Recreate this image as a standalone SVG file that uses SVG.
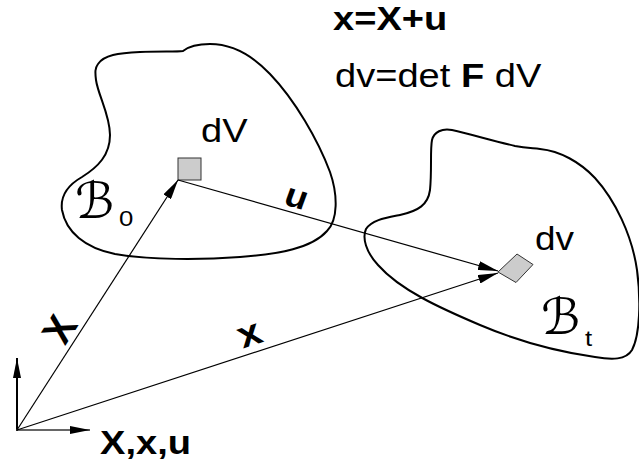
<svg xmlns="http://www.w3.org/2000/svg" width="639" height="466" viewBox="0 0 639 466">
<defs>
<style>
.body{fill:none;stroke:#000;stroke-width:2}
.vec{fill:none;stroke:#000;stroke-width:1.2}
.t{font-family:"Liberation Sans",Arial,sans-serif;fill:#000}
.b{font-weight:bold}
.scr{font-family:"DejaVu Serif","DejaVu Sans",serif;fill:#000}
.elem{fill:#ccc;stroke:#333;stroke-width:1}
</style>
<marker id="ah" viewBox="0 0 20 9" refX="20" refY="4.5" markerWidth="20" markerHeight="9" markerUnits="userSpaceOnUse" orient="auto">
<path d="M0,0 L20,4.5 L0,9 Z" fill="#000"/>
</marker>
<marker id="axh" viewBox="0 0 20 8" refX="20" refY="4" markerWidth="20" markerHeight="8" markerUnits="userSpaceOnUse" orient="auto">
<path d="M0,0 L20,4 L0,8 Z" fill="#000"/>
</marker>
</defs>
<rect width="639" height="466" fill="#fff"/>
<g id="body-B0">
<path class="body" d="M 98,64 C 104,55 118,53 140,52 C 160,51 176,52 183,51 C 188,47 197,44 210,44 C 232,44 252,55 270,74 C 295,100 318,140 330,172 C 338,195 338,220 327,231 C 312,248 280,254 240,257 C 200,260 150,260 115,254 C 85,248 66,232 62,210 C 60,195 68,185 82,177 C 98,167 110,155 110,135 C 110,115 98,95 96,80 C 95,72 95,68 98,64 Z"/>
<text class="scr" transform="translate(75,218)" font-size="50">ℬ</text>
<text class="t" transform="translate(119,226) scale(1.12,1)" font-size="23">0</text>
</g>
<g id="body-Bt">
<path class="body" d="M 432,140 C 434,132 442,128 452,130 C 470,134 490,140 515,146 C 525,148 530,148 540,149 C 560,151 580,162 595,178 C 615,200 632,235 637,270 C 641,300 640,335 632,350 C 626,360 612,360 595,357 C 560,352 520,342 480,325 C 440,308 400,290 378,265 C 366,252 362,238 366,229 C 372,220 385,218 400,215 C 418,211 428,205 430,190 C 432,170 430,150 432,140 Z"/>
<text class="scr" transform="translate(541,334)" font-size="50">ℬ</text>
<text class="t" transform="translate(585,346) scale(1.12,1)" font-size="23">t</text>
</g>
<g id="element-dV">
<rect class="elem" x="178" y="158" width="23" height="22"/>
<text class="t" transform="translate(201,142) scale(1.12,1)" font-size="34">dV</text>
</g>
<g id="element-dv">
<polygon class="elem" points="498,272 517,254 533,264.5 516,282.5"/>
<text class="t" transform="translate(535,250) scale(1.12,1)" font-size="33">dv</text>
</g>
<g id="axes">
<line x1="17" y1="431" x2="17" y2="358" stroke="#000" stroke-width="2" marker-end="url(#axh)"/>
<line x1="16" y1="430" x2="90" y2="430" stroke="#333" stroke-width="1.5" marker-end="url(#axh)"/>
<text class="t b" transform="translate(100,454) scale(1.12,1)" font-size="34">X,x,u</text>
</g>
<g id="connectors">
<line class="vec" x1="17" y1="430" x2="178" y2="180" marker-end="url(#ah)"/>
<line class="vec" x1="178" y1="180" x2="498" y2="271" marker-end="url(#ah)"/>
<line class="vec" x1="17" y1="430" x2="498" y2="273" marker-end="url(#ah)"/>
</g>
<g id="labels">
<text class="t b" transform="translate(59,329) scale(1.12,1) rotate(-60.2)" font-size="37" text-anchor="middle" dy="0.36em">X</text>
<text class="t b" transform="translate(250,336) scale(1.12,1) rotate(-20.2)" font-size="37" text-anchor="middle" dy="0.26em">x</text>
<text class="t b" transform="translate(296,199) scale(1.12,1) rotate(18)" font-size="33" text-anchor="middle" dy="0.26em">u</text>
<text class="t b" transform="translate(333,30) scale(1.12,1)" font-size="34">x=X+u</text>
<text class="t" transform="translate(335,87) scale(1.12,1)" font-size="34">dv=det <tspan class="b">F</tspan> dV</text>
</g>
</svg>
